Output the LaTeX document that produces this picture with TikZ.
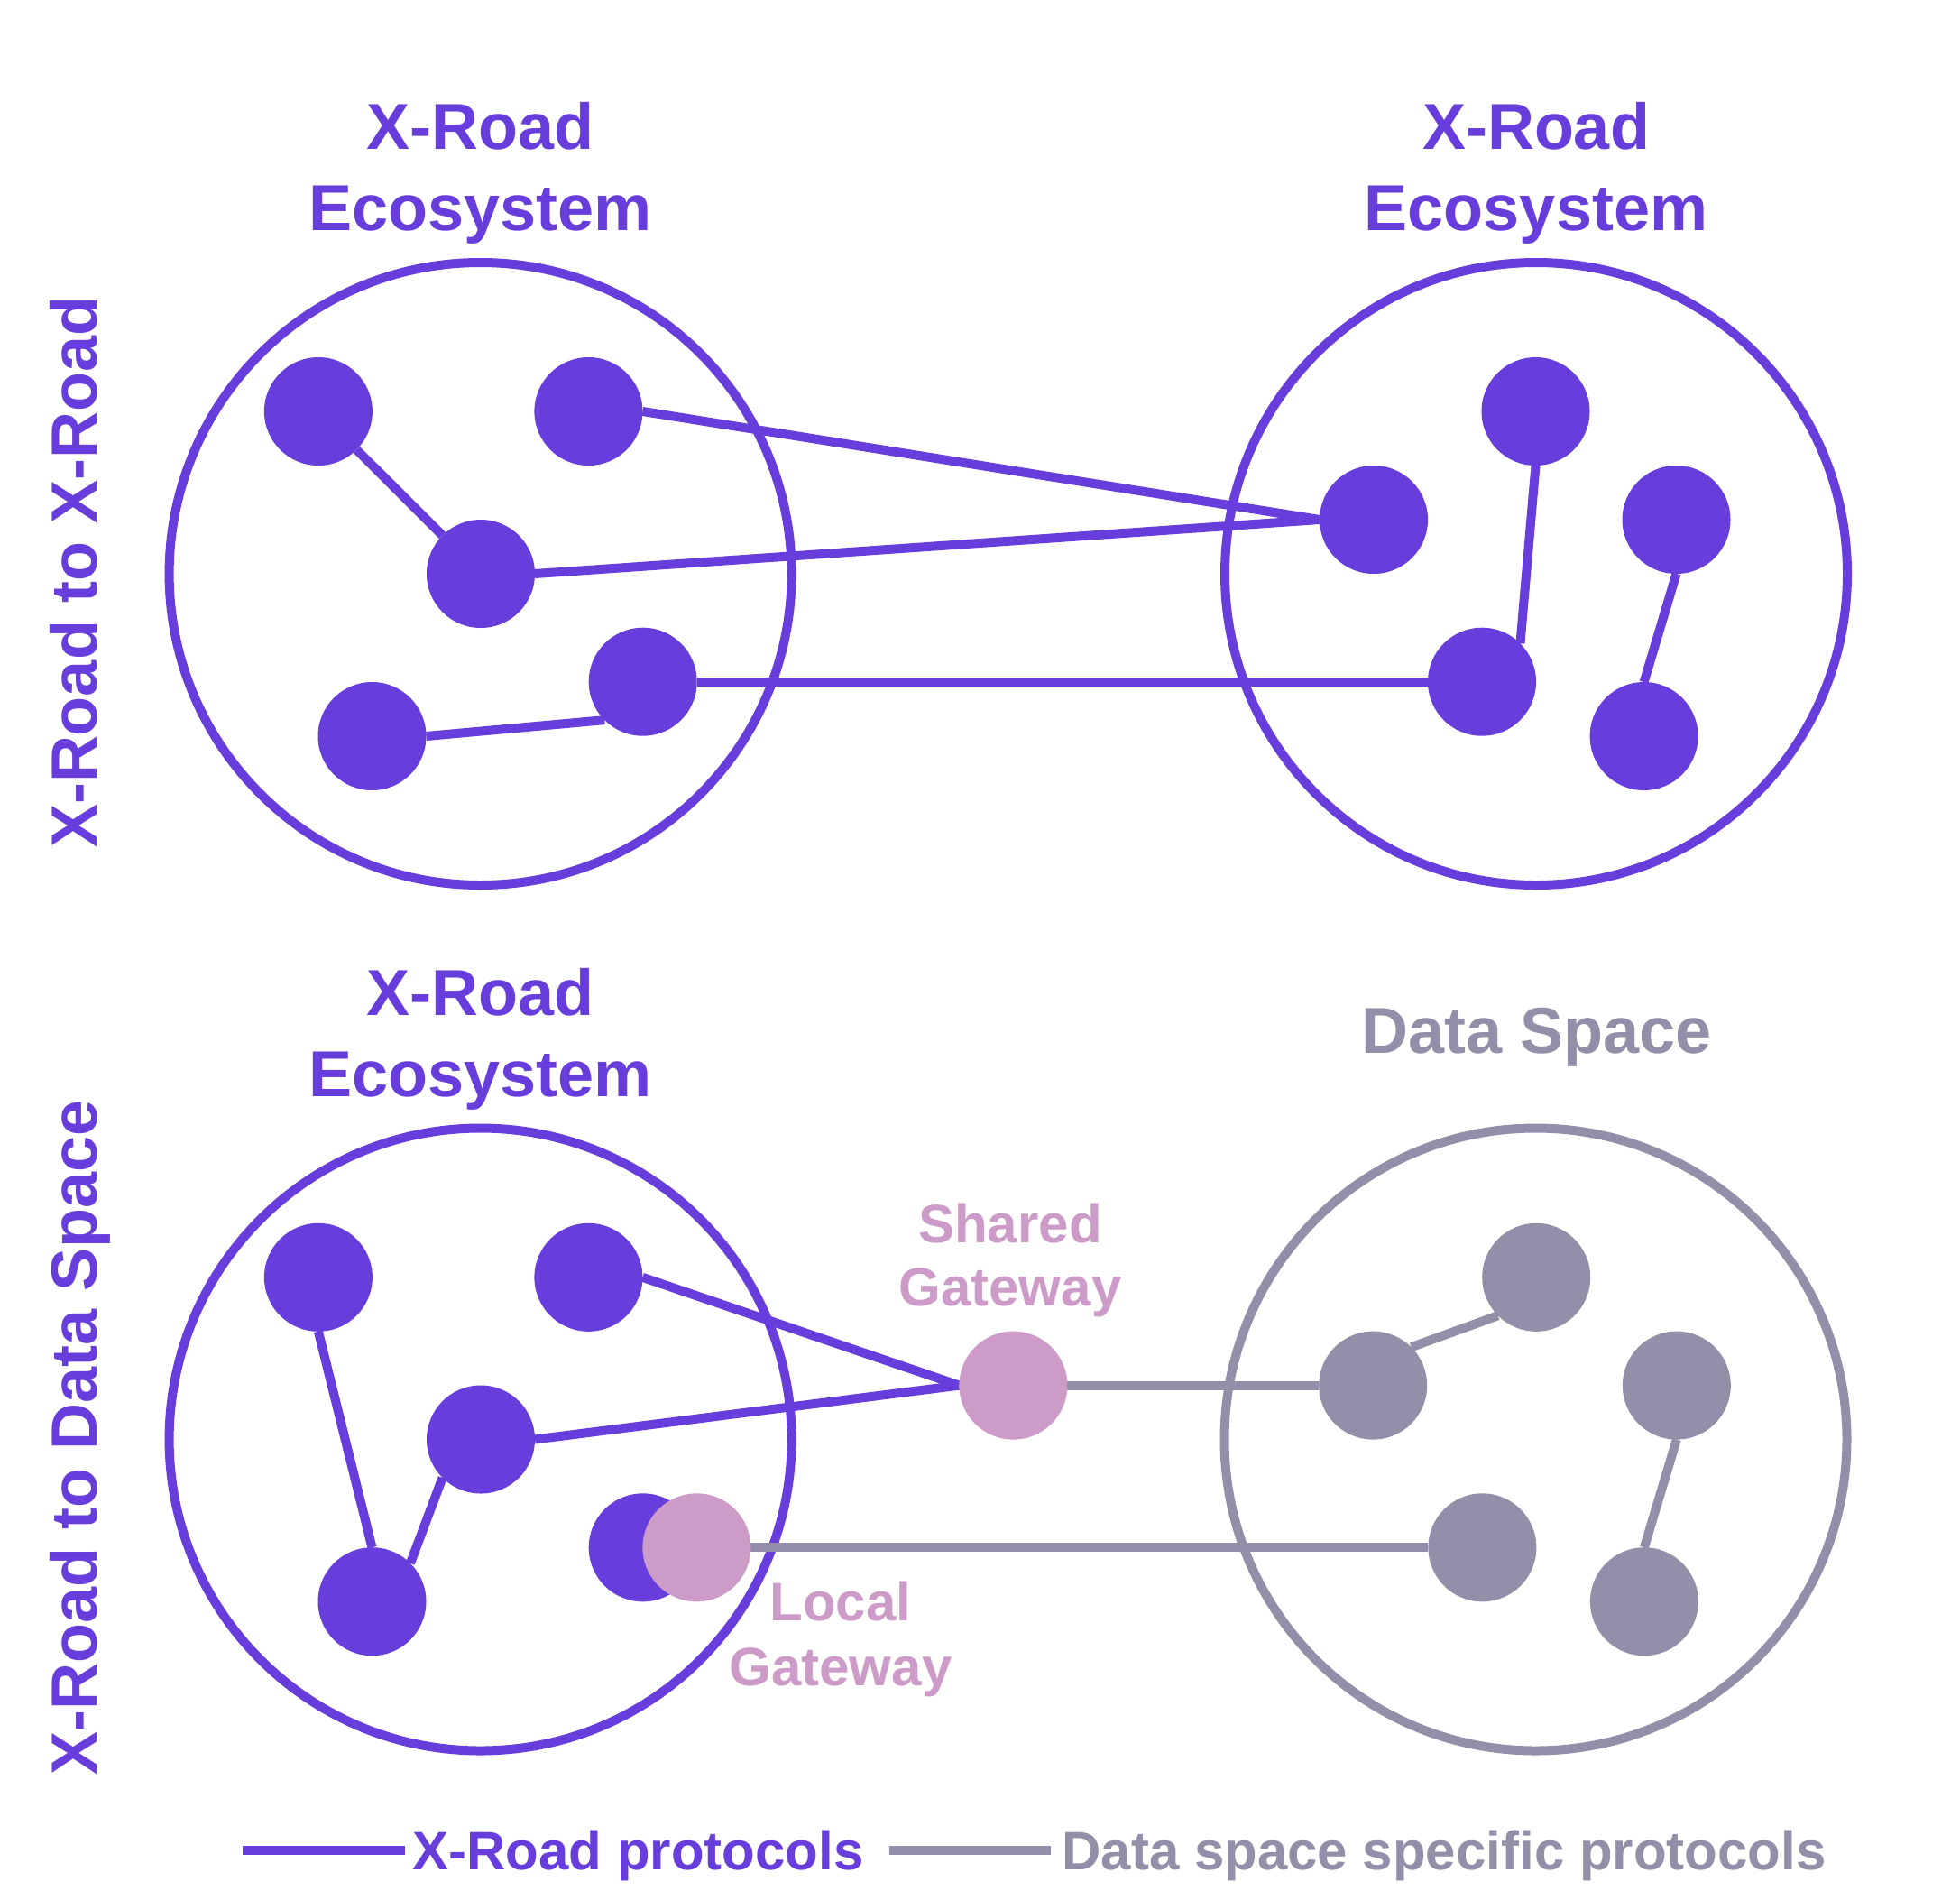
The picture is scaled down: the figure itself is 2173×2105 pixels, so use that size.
\documentclass[tikz,border=0pt]{standalone}
\usepackage{fontspec}
\setmainfont{Liberation Sans}
\definecolor{xr}{HTML}{673DDB}
\definecolor{ds}{HTML}{958EA8}
\definecolor{gw}{HTML}{CC9BC8}
\pgfdeclarelayer{paper}
\pgfdeclarelayer{back}
\pgfsetlayers{paper,back,main}
\begin{document}
\begin{tikzpicture}[x=1pt,y=-1pt,
  ring/.style={circle, draw, line width=10pt, minimum size=690pt, inner sep=0pt},
  dot/.style={circle, fill, minimum size=120pt, inner sep=0pt, outer sep=0pt},
  link/.style={line width=10pt},
  biglbl/.style={font=\fontsize{72}{86}\selectfont\bfseries, anchor=base, inner sep=0pt},
  smalllbl/.style={font=\fontsize{60}{72}\selectfont\bfseries, anchor=base, inner sep=0pt},
  leglbl/.style={font=\fontsize{60}{72}\selectfont\bfseries, anchor=base west, inner sep=0pt}]
\begin{pgfonlayer}{paper}
\fill[white] (0,0) rectangle (2173,2105);
\end{pgfonlayer}
\useasboundingbox (0,0) rectangle (2173,2105);

% ---------- top row ----------
\node[dot, xr] (A1) at (352.9,456) {};
\node[dot, xr] (A2) at (652.4,456) {};
\node[dot, xr] (A3) at (533,636) {};
\node[dot, xr] (A4) at (412.5,816) {};
\node[dot, xr] (A5) at (712.7,755.7) {};
\node[dot, xr] (B1) at (1702.5,456) {};
\node[dot, xr] (B2) at (1523,576) {};
\node[dot, xr] (B3) at (1858.5,576) {};
\node[dot, xr] (B4) at (1643,755.7) {};
\node[dot, xr] (B5) at (1822.6,816) {};

% ---------- bottom row ----------
\node[dot, xr] (C1) at (352.9,1415.8) {};
\node[dot, xr] (C2) at (652.4,1415.8) {};
\node[dot, xr] (C3) at (533,1595.5) {};
\node[dot, xr] (C4) at (412.5,1775.2) {};
\node[dot, xr] (C5) at (712.7,1715.3) {};
\node[dot, gw] (LG) at (772.4,1715.3) {};
\node[dot, gw] (SG) at (1123.4,1535.6) {};
\node[dot, ds] (D1) at (1703.2,1415.8) {};
\node[dot, ds] (D2) at (1522.2,1535.6) {};
\node[dot, ds] (D3) at (1858.8,1535.6) {};
\node[dot, ds] (D4) at (1643.4,1715.3) {};
\node[dot, ds] (D5) at (1822.9,1775.2) {};

\begin{pgfonlayer}{back}
\node[ring, xr] (R1) at (532.6,636) {};
\node[ring, xr] (R2) at (1703,636) {};
\node[ring, xr] (R3) at (532.6,1595.5) {};
\node[ring, ds] (R4) at (1702.5,1595.5) {};

\draw[link, xr] (A1) -- (A3);
\draw[link, xr] (A2.east) -- (B2.west);
\draw[link, xr] (A3.east) -- (B2.west);
\draw[link, xr] (A4.east) -- (A5.south west);
\draw[link, xr] (A5.east) -- (B4.west);
\draw[link, xr] (B1.south) -- (B4.north east);
\draw[link, xr] (B3.south) -- (B5.north);

\draw[link, xr] (C1.south) -- (C4.north);
\draw[link, xr] (C4.north east) -- (C3.south west);
\draw[link, xr] (C2.east) -- (SG.west);
\draw[link, xr] (C3.east) -- (SG.west);
\draw[link, ds] (SG.east) -- (D2.west);
\draw[link, ds] (LG.east) -- (D4.west);
\draw[link, ds] (D2.north east) -- (D1.south west);
\draw[link, ds] (D3.south) -- (D5.north);
\end{pgfonlayer}

% ---------- labels ----------
\node[biglbl, xr] (t1a) at (532.6,165.2) {X-Road};
\node[biglbl, xr] (t1b) at (532.6,255.7) {Ecosystem};
\node[biglbl, xr] (t2a) at (1703,165.2) {X-Road};
\node[biglbl, xr] (t2b) at (1703,255.7) {Ecosystem};
\node[biglbl, xr] (t3a) at (532.6,1125.4) {X-Road};
\node[biglbl, xr] (t3b) at (532.6,1215) {Ecosystem};
\node[biglbl, ds] (t4) at (1704,1167) {Data Space};
\node[smalllbl, gw] (t5a) at (1120,1377) {Shared};
\node[smalllbl, gw] (t5b) at (1120,1447.5) {Gateway};
\node[smalllbl, gw] (t6a) at (932,1796.3) {Local};
\node[smalllbl, gw] (t6b) at (932,1868.2) {Gateway};

\node[biglbl, xr, rotate=90] (v1) at (107.3,634) {X-Road to X-Road};
\node[biglbl, xr, rotate=90] (v2) at (107.3,1593) {X-Road to Data Space};

% ---------- legend ----------
\coordinate (L1s) at (268.7,2051.4);
\coordinate (L1e) at (449,2051.4);
\coordinate (L2s) at (985.6,2051.4);
\coordinate (L2e) at (1164.6,2051.4);
\draw[link, xr] (L1s) -- (L1e);
\draw[link, ds] (L2s) -- (L2e);
\node[leglbl, xr] (lg1) at (457.4,2072.6) {X-Road protocols};
\node[leglbl, ds] (lg2) at (1177.3,2072.6) {Data space specific protocols};
\end{tikzpicture}
\end{document}
